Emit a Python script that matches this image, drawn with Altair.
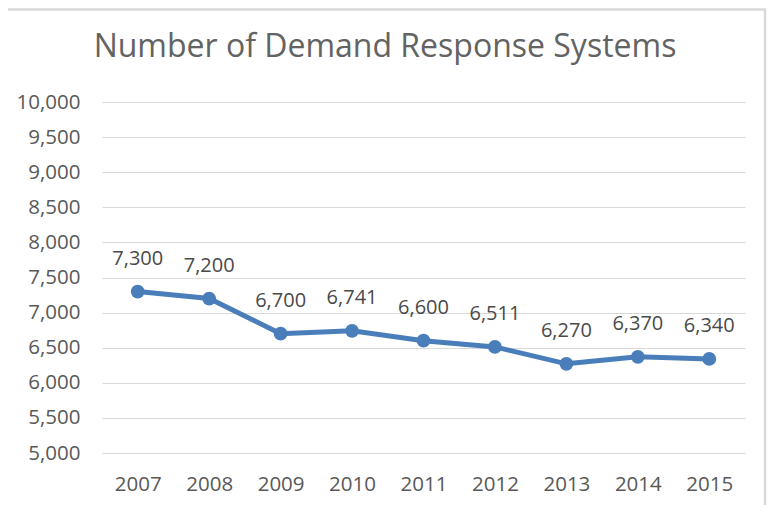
import altair as alt
import pandas as pd

years = ["2007", "2008", "2009", "2010", "2011", "2012", "2013", "2014", "2015"]
values = [7300, 7200, 6700, 6741, 6600, 6511, 6270, 6370, 6340]
y_ticks = [5000, 5500, 6000, 6500, 7000, 7500, 8000, 8500, 9000, 9500, 10000]
title_text = "Number of Demand Response Systems"

df = pd.DataFrame({"year": years, "value": values})

FONT = "Open Sans"
W, H = 643, 351

x = alt.X("year:O", scale=alt.Scale(paddingInner=0, paddingOuter=0),
          axis=alt.Axis(title=None, labelAngle=0, domain=False, ticks=False,
                        labelFontSize=20.5, labelColor="#595959", labelFont=FONT,
                        labelPadding=21, grid=False))
y = alt.Y("value:Q", scale=alt.Scale(domain=[5000, 10000], nice=False, zero=False),
          axis=alt.Axis(title=None, values=y_ticks, format=",.0f", domain=False, ticks=False,
                        labelFontSize=20.5, labelColor="#595959", labelFont=FONT,
                        labelPadding=22, gridColor="#d9d9d9", gridWidth=1.2))

base = alt.Chart(df)

line = base.mark_line(color="#4A7EBB", strokeWidth=5).encode(x=x, y=y)
points = base.mark_circle(color="#4A7EBB", size=190, opacity=1).encode(x=x, y=y)
labels = base.mark_text(dy=-33, fontSize=20, color="#4a4a4a", font=FONT, baseline="middle").encode(
    x=x, y=y, text=alt.Text("value:Q", format=","))

deco = pd.DataFrame({"t": [title_text]})
border = alt.Chart(deco).mark_rect(
    fill=None, stroke="#d9d9d9", strokeWidth=2.5).encode(
    x=alt.value(-120), x2=alt.value(663), y=alt.value(-92.5), y2=alt.value(500))
title = alt.Chart(deco).mark_text(
    fontSize=32, font=FONT, color="#636363", align="center", baseline="alphabetic").encode(
    x=alt.value(283), y=alt.value(-45), text="t:N")

chart = alt.layer(border, title, line, points, labels).properties(
    width=W, height=H,
    autosize=alt.AutoSizeParams(type="none"),
    padding={"left": 94, "top": 94, "right": 22, "bottom": 52},
).configure_view(stroke=None)

chart.save("out.html", embed_options={"renderer": "svg", "actions": False})
